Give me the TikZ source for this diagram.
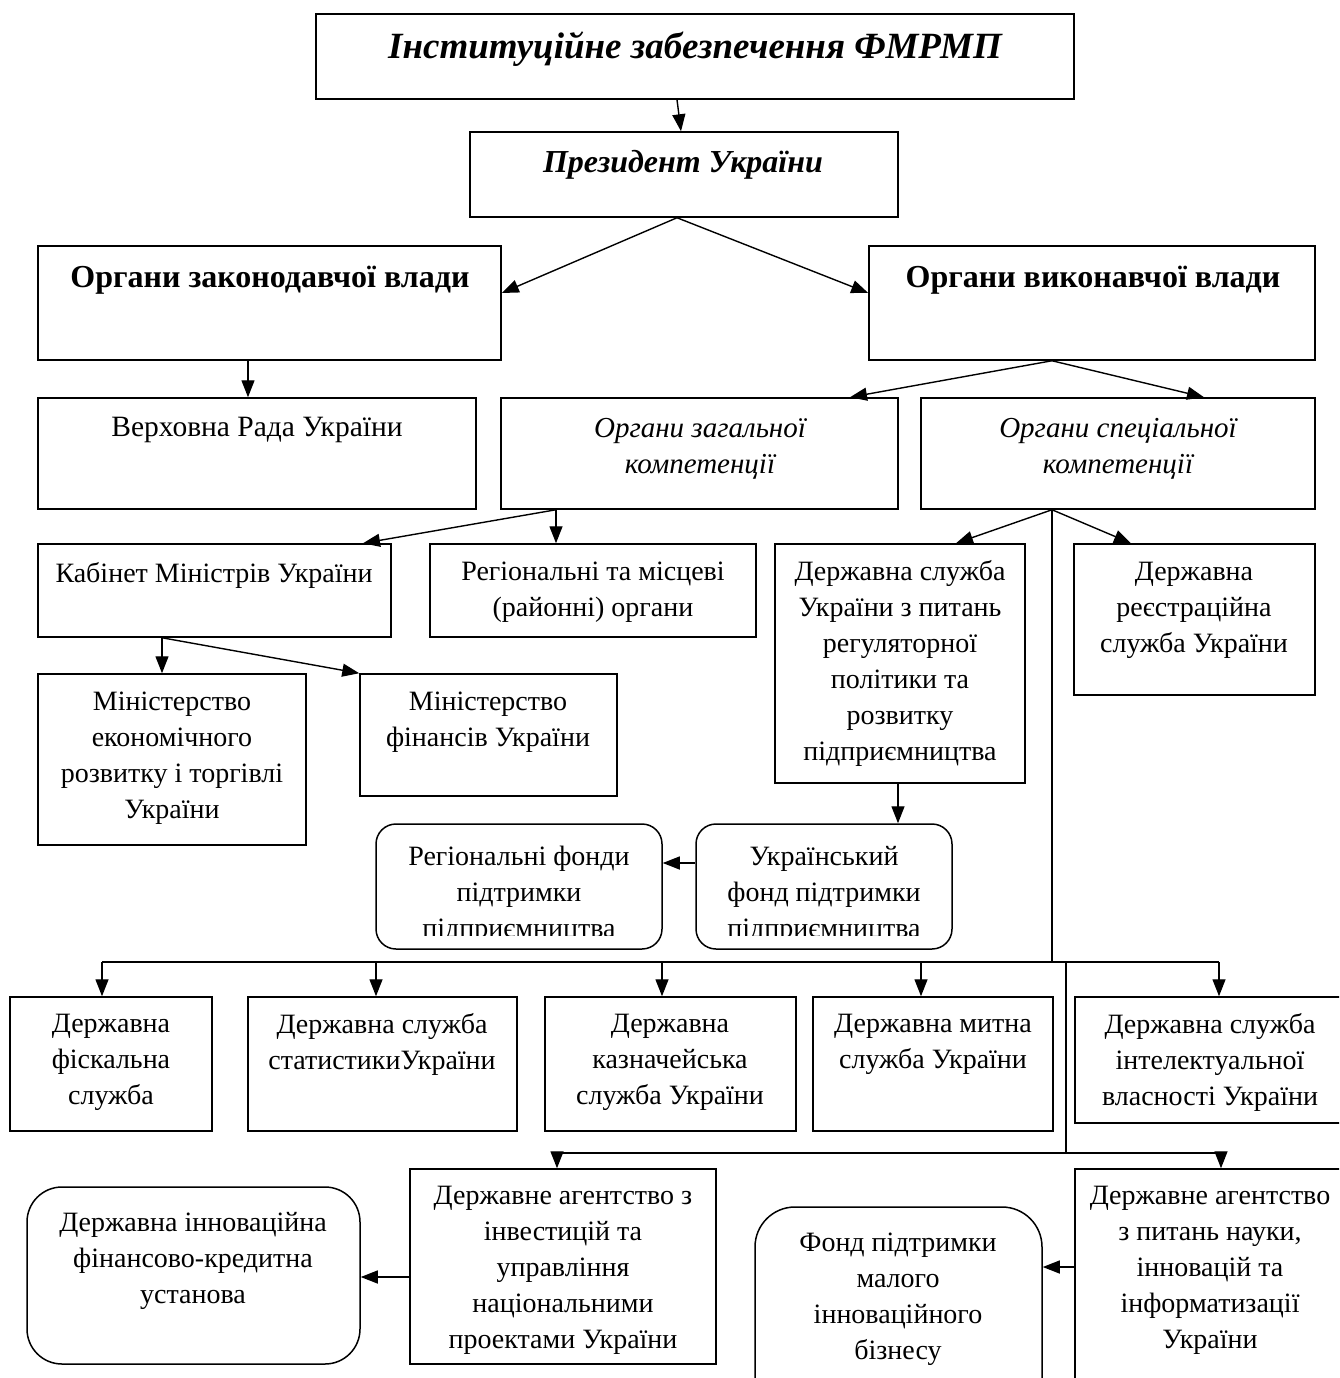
\documentclass[tikz,border=0pt]{standalone}
\usepackage{fontspec}
\setmainfont{Liberation Serif}
\usetikzlibrary{arrows.meta,fit,calc}

\begin{document}
\begin{tikzpicture}[x=1pt,y=-1pt,>={Triangle[length=17pt,width=13pt]},
box/.style={draw,line width=1.5pt,inner sep=0pt},
rbox/.style={box,rounded corners=#1},
txt/.style={align=center,font=\fontsize{28}{36}\selectfont},
ttl/.style={txt,font=\fontsize{37}{42}\selectfont\bfseries\itshape},
bt/.style={txt,font=\fontsize{32}{36}\selectfont\bfseries},
it/.style={txt,font=\fontsize{29}{36}\selectfont\itshape},
arr/.style={->,line width=1.4pt},
ln/.style={line width=1.4pt}]
\clip (0,0) rectangle (1339,1378);
% top levels
\node[box,fit={(316,14) (1074,99)}] (top) {};
\node[ttl] (topT) at (695,49) {Інституційне забезпечення ФМРМП};
\node[box,fit={(470,132) (898,217)}] (pres) {};
\node[ttl,font=\fontsize{32}{36}\selectfont\bfseries\itshape] (presT) at (683,165) {Президент України};
\node[box,fit={(38,246) (501,360)}] (zak) {};
\node[bt] (zakT) at (270,280) {Органи законодавчої влади};
\node[box,fit={(869,246) (1315,360)}] (vyk) {};
\node[bt] (vykT) at (1093,280) {Органи виконавчої влади};
% second level
\node[box,fit={(38,398) (476,509)}] (rada) {};
\node[txt,font=\fontsize{29.5}{36}\selectfont] (radaT) at (257,430) {Верховна Рада України};
\node[box,fit={(501,398) (898,509)}] (zag) {};
\node[it] (zagT) at (700,449) {Органи загальної\\компетенції};
\node[box,fit={(921,398) (1315,509)}] (spec) {};
\node[it] (specT) at (1118,449) {Органи спеціальної\\компетенції};
% third level
\node[box,fit={(38,544) (391,637)}] (kab) {};
\node[txt] (kabT) at (214,575) {Кабінет Міністрів України};
\node[box,fit={(430,544) (756,637)}] (reg) {};
\node[txt] (regT) at (593,592) {Регіональні та місцеві\\(районні) органи};
\node[box,fit={(775,544) (1025,783)}] (dsrp) {};
\node[txt] (dsrpT) at (900,663) {Державна служба\\України з питань\\регуляторної\\політики та\\розвитку\\підприємництва};
\node[box,fit={(1074,544) (1315,695)}] (reestr) {};
\node[txt] (reestrT) at (1194,610) {Державна\\реєстраційна\\служба України};
\node[box,fit={(38,674) (306,845)}] (minek) {};
\node[txt] (minekT) at (172,758) {Міністерство\\економічного\\розвитку і торгівлі\\України};
\node[box,fit={(360,674) (617,796)}] (minfin) {};
\node[txt] (minfinT) at (488,722) {Міністерство\\фінансів України};
% funds
\node[rbox=20pt,fit={(376,824) (662,949)}] (regf) {};
\node[rbox=20pt,fit={(696,824) (952,949)}] (ukrf) {};
\begin{scope}
\clip (376,824) rectangle (952,935);
\node[txt] (regfT) at (519,895) {Регіональні фонди\\підтримки\\підприємництва};
\node[txt] (ukrfT) at (824,895) {Український\\фонд підтримки\\підприємництва};
\end{scope}
% services row
\node[box,fit={(10,997) (212,1131)}] (fisk) {};
\node[txt] (fiskT) at (111,1062) {Державна\\фіскальна\\служба};
\node[box,fit={(248,997) (517,1131)}] (stat) {};
\node[txt] (statT) at (382,1044) {Державна служба\\статистикиУкраїни};
\node[box,fit={(545,997) (796,1131)}] (kazn) {};
\node[txt] (kaznT) at (670,1062) {Державна\\казначейська\\служба України};
\node[box,fit={(813,997) (1053,1131)}] (mytn) {};
\node[txt] (mytnT) at (933,1044) {Державна митна\\служба України};
\node[box,fit={(1075,997) (1345,1123)}] (intel) {};
\node[txt] (intelT) at (1210,1062) {Державна служба\\інтелектуальної\\власності України};
% bottom row
\node[box,fit={(410,1169) (716,1364)}] (invest) {};
\node[txt] (investT) at (563,1270) {Державне агентство з\\інвестицій та\\управління\\національними\\проектами України};
\node[rbox=35pt,fit={(27,1187) (360,1364)}] (innov) {};
\node[txt] (innovT) at (193,1261) {Державна інноваційна\\фінансово-кредитна\\установа};
\node[rbox=40pt,fit={(755,1207) (1042,1420)}] (fond) {};
\node[txt] (fondT) at (898,1299) {Фонд підтримки\\малого\\інноваційного\\бізнесу};
\node[box,fit={(1075,1169) (1345,1420)}] (nauka) {};
\node[txt] (naukaT) at (1210,1270) {Державне агентство\\з питань науки,\\інновацій та\\інформатизації\\України};
% bus points
\coordinate (busA) at (1052,962);
\coordinate (busB) at (1066,962);
\coordinate (busC) at (1066,1153);
% connectors
\draw[arr] ([xshift=-18pt]top.south) -- ([xshift=-3pt]pres.north);
\draw[arr] ([xshift=-7pt]pres.south) -- ([yshift=10pt]zak.east);
\draw[arr] ([xshift=-7pt]pres.south) -- ([yshift=10pt]vyk.west);
\draw[arr] ([xshift=-21.5pt]zak.south) -- ([xshift=-21.5pt]zak.south |- rada.north);
\draw[arr] ([xshift=-40pt]vyk.south) -- ([xshift=150.5pt]zag.north);
\draw[arr] ([xshift=-40pt]vyk.south) -- ([xshift=86pt]spec.north);
\draw[arr] ([xshift=-143.5pt]zag.south) -- ([xshift=148.5pt]kab.north);
\draw[arr] ([xshift=-143.5pt]zag.south) -- ([xshift=-143.5pt]zag.south |- reg.north);
\draw[arr] ([xshift=-66pt]spec.south) -- ([xshift=56pt]dsrp.north);
\draw[arr] ([xshift=-66pt]spec.south) -- ([xshift=-63.5pt]reestr.north);
\draw[arr] ([xshift=-52.5pt]kab.south) -- ([xshift=-52.5pt]kab.south |- minek.north);
\draw[arr] ([xshift=-52.5pt]kab.south) -- (minfin.north west);
\draw[arr] ([xshift=-2pt]dsrp.south) -- ([xshift=-2pt]dsrp.south |- ukrf.north);
\draw[arr] ([yshift=23.5pt]ukrf.west) -- ([yshift=23.5pt]ukrf.west -| regf.east);
% first bus
\draw[ln] ([xshift=-66pt]spec.south) -- (busA);
\draw[ln] ([xshift=-9pt]fisk.north |- busA) -- ([xshift=9pt]intel.north |- busA);
\foreach \n/\s in {fisk/-9,stat/-6.5,kazn/-8.5,mytn/-12,intel/9}
  \draw[arr] ([xshift=\s pt]\n.north |- busA) -- ([xshift=\s pt]\n.north);
% second bus
\draw[ln] (busB) -- (busC);
\draw[ln] ([xshift=-6pt]invest.north |- busC) -- ([xshift=11pt]nauka.north |- busC);
\foreach \n/\s in {invest/-6,nauka/11}
  \draw[arr] ([xshift=\s pt]\n.north |- busC) -- ([xshift=\s pt]\n.north);
\draw[arr] ([yshift=-10.5pt]invest.west) -- ([yshift=-10.5pt]invest.west -| innov.east);
\draw[arr] ([yshift=27.5pt]nauka.west) -- ([yshift=27.5pt]nauka.west -| fond.east);
\end{tikzpicture}
\end{document}
